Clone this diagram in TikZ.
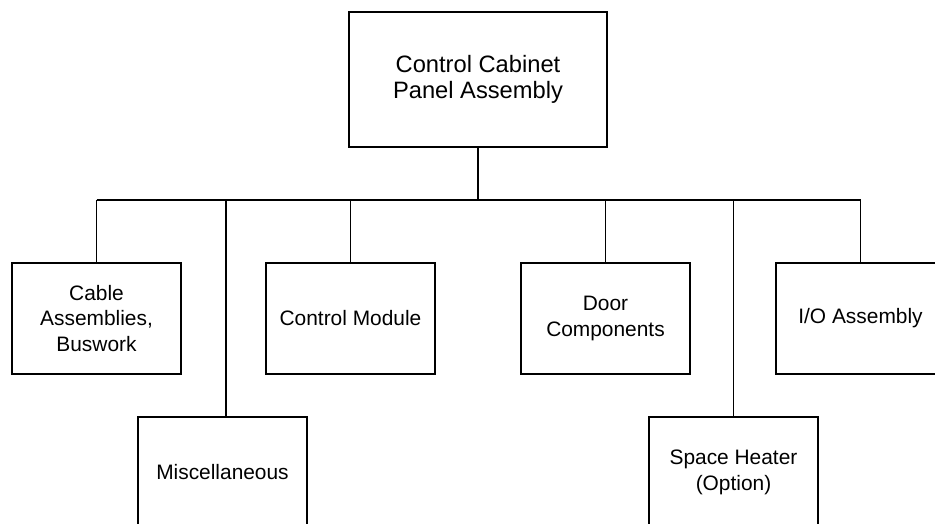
\documentclass[tikz,border=0pt]{standalone}
\usepackage{fontspec}
\setmainfont{Liberation Sans}
\begin{document}
\begin{tikzpicture}[x=1pt,y=-1pt,
  box/.style={draw=black,line width=1.1pt,rectangle,inner sep=0pt,
    minimum width=169pt,minimum height=111pt,align=center,
    font=\fontsize{20.9}{25.5}\selectfont},
  topbox/.style={box,line width=2.8pt,minimum width=258pt,minimum height=135pt,
    font=\fontsize{23.7}{25.7}\selectfont},
  conn/.style={draw=black,line width=1.8pt}]
\useasboundingbox (0,0) rectangle (935,523);
\begin{scope}
\clip (0,0) rectangle (935,523);
\fill[white] (0,0) rectangle (935,523);
\node[topbox] (top) at (478,79.5) {Control Cabinet\\Panel Assembly};
\node[box] (cable) at (96.5,318.5) {Cable\\Assemblies,\\Buswork};
\node[box] (ctrl) at (350.5,318.5) {Control Module};
\node[box] (door) at (605.5,318.5) {Door\\Components};
\node[box] (io) at (860.5,318.5) {I/O Assembly};
\node[box] (misc) at (222.5,472.5) {Miscellaneous};
\node[box] (heat) at (733.5,472.5) {Space Heater\\(Option)};
\coordinate (bl) at (96.5,200);
\coordinate (br) at (860.5,200);
\coordinate (bt) at (478,200);
\coordinate (bm) at (226,200);
\coordinate (bh) at (733.5,200);
\draw[conn] (top.south) -- (bt);
\draw[conn] (bl) -- (br);
\draw[conn] (bl) -- (cable.north);
\draw[conn] (br) -- (io.north);
\draw[conn] (bt -| ctrl.north) -- (ctrl.north);
\draw[conn] (bt -| door.north) -- (door.north);
\draw[conn] (bm) -- (bm |- misc.north);
\draw[conn] (bh) -- (heat.north);
\end{scope}
\end{tikzpicture}
\end{document}
